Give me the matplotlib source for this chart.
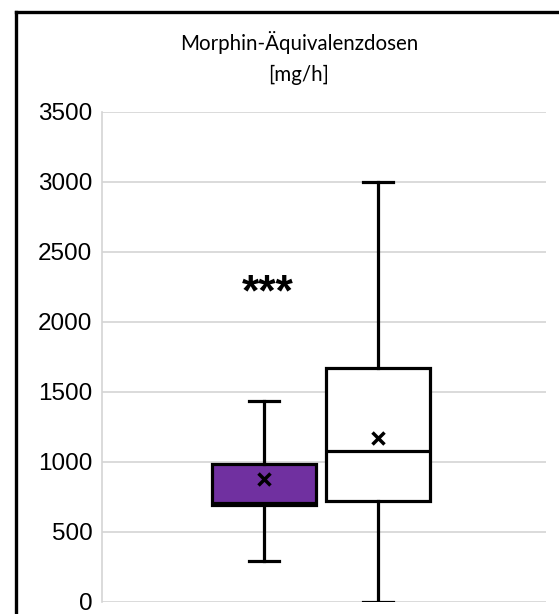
import matplotlib
matplotlib.use("Agg")
import matplotlib.pyplot as plt
from matplotlib.lines import Line2D

plt.rcParams['font.family'] = ['Liberation Sans', 'DejaVu Sans']

# Data
groups = ["Gruppe 1", "Gruppe 2"]
whislo = [291, 0]
q1 = [693, 721]
med = [709, 1079]
q3 = [986, 1671]
whishi = [1436, 3000]
means = [879, 1169]
face_colors = ["#7030A0", "#FFFFFF"]
yticks = [0, 500, 1000, 1500, 2000, 2500, 3000, 3500]
title = "Morphin-Äquivalenzdosen\n[mg/h]"
signif = "***"
signif_pos = (1.03, 2200)

W, H = 559, 614
fig = plt.figure(figsize=(W / 100, H / 100), dpi=100)
ax = fig.add_axes([102 / W, (H - 602) / H, (546 - 102) / W, (602 - 112) / H])

stats = []
for i, g in enumerate(groups):
    stats.append(dict(label=g, whislo=whislo[i], q1=q1[i], med=med[i],
                      q3=q3[i], whishi=whishi[i], mean=means[i], fliers=[]))

lw = 2.3
bp = ax.bxp(stats, positions=[1, 2], widths=0.91, showmeans=True,
            patch_artist=True, capwidths=0.26,
            boxprops=dict(linewidth=lw, edgecolor='black'),
            whiskerprops=dict(linewidth=lw, color='black'),
            capprops=dict(linewidth=lw, color='black'),
            medianprops=dict(linewidth=lw, color='black'),
            meanprops=dict(marker='x', markeredgecolor='black',
                           markersize=9, markeredgewidth=2.5),
            zorder=3)
for patch, c in zip(bp['boxes'], face_colors):
    patch.set_facecolor(c)

ax.set_xlim(-0.421, 3.474)
ax.set_ylim(0, 3500)
ax.set_yticks(yticks)
ax.set_yticklabels([str(t) for t in yticks], fontsize=17.5)
ax.set_xticks([])
ax.tick_params(axis='y', length=0, pad=7)
ax.yaxis.grid(True, color='#d4d4d4', linewidth=1.2)
ax.set_axisbelow(True)
for s in ['top', 'right', 'bottom']:
    ax.spines[s].set_visible(False)
ax.spines['left'].set_color('#d4d4d4')
ax.spines['left'].set_linewidth(1.2)

ax.text(signif_pos[0], signif_pos[1], signif, ha='center', va='center',
        fontsize=32, fontweight='bold')

fig.text(299 / W, 1 - 58 / H, title, ha='center', va='center', fontsize=14.8,
         linespacing=1.65, family=['Lato', 'DejaVu Sans'])

# outer frame (left and top only)
fig.add_artist(Line2D([16 / W, 16 / W], [0, 1 - 12 / H], transform=fig.transFigure,
                      color='black', linewidth=2.4))
fig.add_artist(Line2D([16 / W, 1], [1 - 12 / H, 1 - 12 / H], transform=fig.transFigure,
                      color='black', linewidth=2.4, solid_capstyle='projecting'))

fig.savefig("out.png", dpi=100)
